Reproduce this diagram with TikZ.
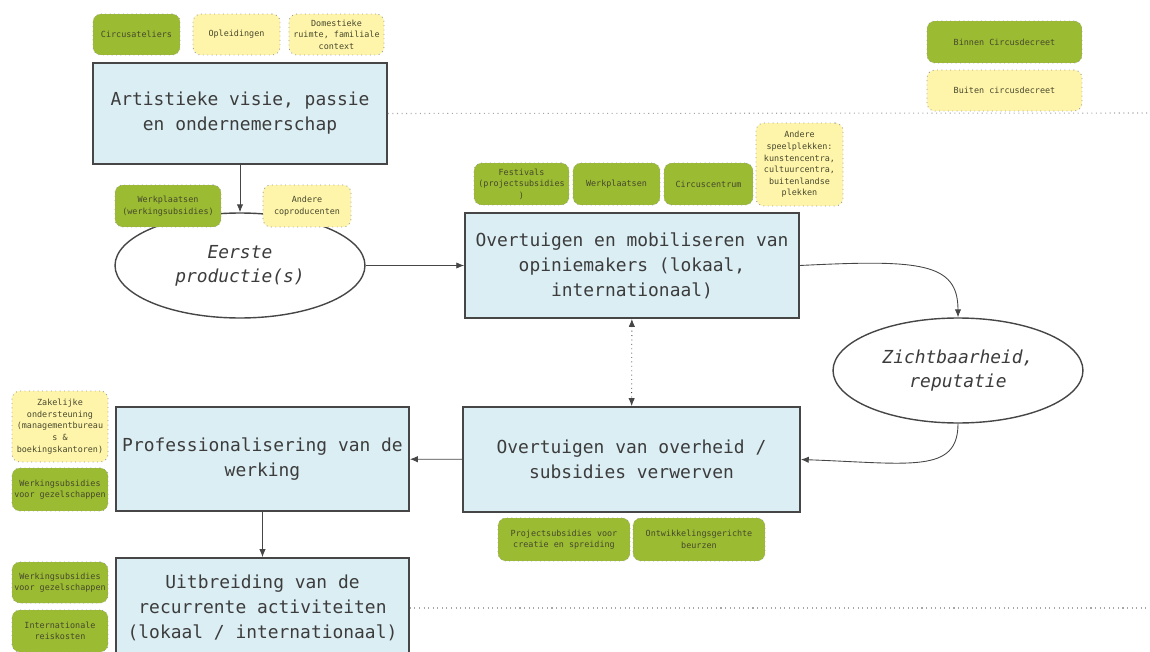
\documentclass[tikz,border=0pt]{standalone}
\usepackage{fontspec}
\setmainfont{DejaVu Sans Mono}
\usepackage{xcolor}
\usetikzlibrary{shapes.geometric,arrows.meta}
\definecolor{boxblue}{RGB}{219,238,244}
\definecolor{tagGreen}{RGB}{155,187,50}
\definecolor{tagYellow}{RGB}{255,245,170}
\definecolor{lineGray}{RGB}{70,70,70}
\definecolor{textGray}{RGB}{60,60,60}
\definecolor{tagText}{RGB}{70,72,45}

\begin{document}
\begin{tikzpicture}[x=0.02cm, y=-0.02cm]
    \tikzstyle{phase} = [rectangle, draw=lineGray, line width=1pt, fill=boxblue, align=center, text=textGray, inner sep=0pt, font=\fontsize{10.2}{14.2}\selectfont]
    \tikzstyle{result} = [ellipse, draw=lineGray, line width=0.8pt, fill=white, align=center, text=textGray, inner sep=0pt, minimum width=5cm, minimum height=2.1cm, font=\fontsize{10.2}{13.6}\selectfont\itshape]
    \tikzstyle{tag} = [rectangle, rounded corners=4.5pt, draw=gray!80, dotted, line width=0.5pt, align=center, text=tagText, inner sep=0pt, font=\fontsize{4.8}{6.6}\selectfont]
    \tikzstyle{inside} = [tag, fill=tagGreen]
    \tikzstyle{outside} = [tag, fill=tagYellow]
    \tikzstyle{flow} = [draw=lineGray, line width=0.5pt, -{Latex[length=4.5pt,width=3.6pt]}]
    \tikzstyle{border_line} = [draw=gray!70, dotted, line width=0.6pt]

    \clip (0,0) rectangle (1150,652);
    \useasboundingbox (0,0) rectangle (1150,652);

    % Legend
    \node [inside, minimum width=3.1cm, minimum height=0.84cm] (binnen) at (1004.5,42) {Binnen Circusdecreet};
    \node [outside, minimum width=3.1cm, minimum height=0.82cm] (buiten) at (1004.5,90.5) {Buiten circusdecreet};

    % Phases
    \node [phase, minimum width=5.88cm, minimum height=2.02cm] (artistic) at (240,113.5) {Artistieke visie, passie\\en ondernemerschap};
    \node [result] (first_prod) at (240,265.5) {Eerste\\productie(s)};
    \node [phase, minimum width=6.68cm, minimum height=2.1cm] (opinion) at (632,265.5) {Overtuigen en mobiliseren van\\opiniemakers (lokaal,\\internationaal)};
    \node [result] (visibility) at (958,370.5) {Zichtbaarheid,\\reputatie};
    \node [phase, minimum width=6.74cm, minimum height=2.1cm] (government) at (631.5,459.5) {Overtuigen van overheid /\\subsidies verwerven};
    \node [phase, minimum width=5.86cm, minimum height=2.08cm] (professional) at (262.5,459) {Professionalisering van de\\werking};
    \node [phase, minimum width=5.86cm, minimum height=2.0cm] (expansion) at (262.5,608) {Uitbreiding van de\\recurrente activiteiten\\(lokaal / internationaal)};

    % Tags: artistic vision
    \node [inside, minimum width=1.74cm, minimum height=0.82cm] (ateliers) at (136.5,34.5) {Circusateliers};
    \node [outside, minimum width=1.74cm, minimum height=0.82cm] (training) at (236.5,34.5) {Opleidingen};
    \node [outside, minimum width=1.9cm, minimum height=0.82cm] (domestic) at (336.5,34.5) {Domestieke\\ruimte, familiale\\context};

    % Tags: first production
    \node [inside, minimum width=2.12cm, minimum height=0.84cm] (workshops_a) at (168,206) {Werkplaatsen\\(werkingsubsidies)};
    \node [outside, minimum width=1.76cm, minimum height=0.84cm] (coproducers) at (307,206) {Andere\\coproducenten};

    % Tags: opinion makers
    \node [inside, minimum width=1.9cm, minimum height=0.84cm] (festivals) at (521.5,184) {Festivals\\(projectsubsidies\\)};
    \node [inside, minimum width=1.74cm, minimum height=0.84cm] (workshops_b) at (616.5,184) {Werkplaatsen};
    \node [inside, minimum width=1.78cm, minimum height=0.84cm] (circus_centre) at (708.5,184) {Circuscentrum};
    \node [outside, minimum width=1.74cm, minimum height=1.66cm] (venues) at (799.5,164.5) {Andere\\speelplekken:\\kunstencentra,\\cultuurcentra,\\buitenlandse\\plekken};

    % Tags: government
    \node [inside, minimum width=2.64cm, minimum height=0.86cm] (project_subs) at (564,539.5) {Projectsubsidies voor\\creatie en spreiding};
    \node [inside, minimum width=2.64cm, minimum height=0.86cm] (fairs) at (699,539.5) {Ontwikkelingsgerichte\\beurzen};

    % Tags: professionalisation and expansion
    \node [outside, minimum width=1.92cm, minimum height=1.42cm] (business) at (60,426.5) {Zakelijke\\ondersteuning\\(managementbureau\\s \&\\boekingskantoren)};
    \node [inside, minimum width=1.92cm, minimum height=0.86cm] (company_subs_a) at (60,489.5) {Werkingsubsidies\\voor gezelschappen};
    \node [inside, minimum width=1.92cm, minimum height=0.82cm] (company_subs_b) at (60,582.5) {Werkingsubsidies\\voor gezelschappen};
    \node [inside, minimum width=1.92cm, minimum height=0.84cm] (travel) at (60,631) {Internationale\\reiskosten};

    % Borders of the decree
    \coordinate (edge_top) at (1150,113);
    \coordinate (edge_bottom) at (1150,608);
    \draw [border_line] (artistic.east) -- (edge_top);
    \draw [border_line] (expansion.east) -- (edge_bottom);

    % Arrows
    \draw [flow] (artistic) -- (first_prod);
    \draw [flow] (first_prod) -- (opinion);
    \draw [flow] (opinion.east) .. controls +(120,-6) and +(0,-55) .. (visibility.north);
    \draw [flow] (visibility.south) .. controls +(0,50) and +(110,4) .. (government.east);
    \draw [flow, dotted, {Latex[length=4.5pt,width=3.6pt]}-{Latex[length=4.5pt,width=3.6pt]}] (opinion) -- (government);
    \draw [flow] (government) -- (professional);
    \draw [flow] (professional) -- (expansion);
\end{tikzpicture}
\end{document}
